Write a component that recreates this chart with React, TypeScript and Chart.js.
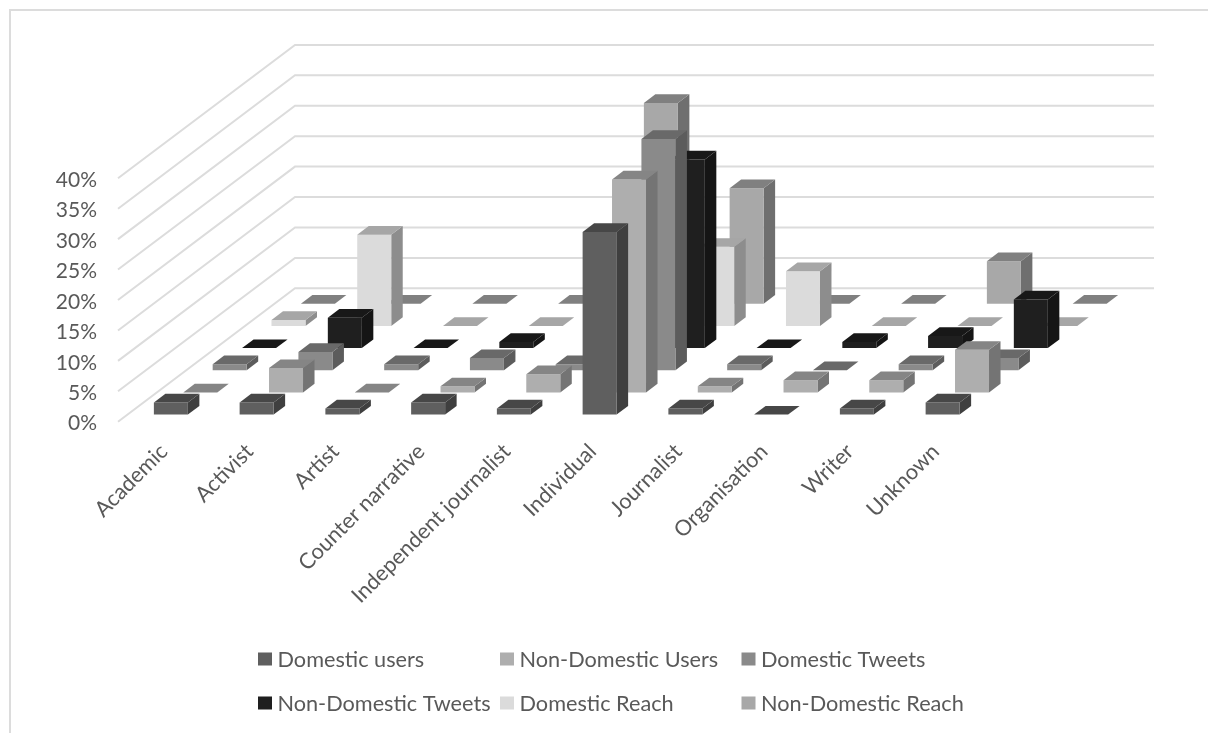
import { useEffect, useRef } from "react";
import { Chart, BarController, registerables } from "chart.js";

const categories = [
  "Academic", "Activist", "Artist", "Counter narrative", "Independent journalist",
  "Individual", "Journalist", "Organisation", "Writer", "Unknown",
];
const domesticUsers = [2, 2, 1, 2, 1, 30, 1, 0, 1, 2];
const nonDomesticUsers = [0, 4, 0, 1, 3, 35, 1, 2, 2, 7];
const domesticTweets = [1, 3, 1, 2, 1, 38, 1, 0, 1, 2];
const nonDomesticTweets = [0, 5, 0, 1, 0, 31, 0, 1, 2, 8];
const domesticReach = [1, 15, 0, 0, 0, 13, 9, 0, 0, 0];
const nonDomesticReach = [0, 0, 0, 0, 33, 19, 0, 0, 7, 0];
const yTicks = { min: 0, max: 40, step: 5 };

const seriesNames = [
  "Domestic users", "Non-Domestic Users", "Domestic Tweets",
  "Non-Domestic Tweets", "Domestic Reach", "Non-Domestic Reach",
];
const seriesValues = [
  domesticUsers, nonDomesticUsers, domesticTweets,
  nonDomesticTweets, domesticReach, nonDomesticReach,
];
const frontColors = ["#5f5f5f", "#aeaeae", "#8a8a8a", "#1f1f1f", "#dbdbdb", "#a8a8a8"];
const topColors = ["#474747", "#858585", "#696969", "#181818", "#a6a6a6", "#808080"];
const sideColors = ["#3f3f3f", "#747474", "#5c5c5c", "#151515", "#8d8d8d", "#6f6f6f"];

const TEXT = "#595959";
const GRID = "#dcdcdc";
const FONT_FAMILY = "Lato";
const FONT_WEIGHT = "400";
const FONT_SIZE = 21.7;
const VALUE_FONT_SIZE = 21;

// Oblique projection of the floor: how far each series row recedes.
const ROW_DX = 29.4;
const ROW_DY = 22.16;
const FRONT_DX = 8;
const FRONT_DY = 7.1;
const BOX_DX = 11.5;
const BOX_DY = 8.7;
const WALL_DX = 175;
const WALL_DY = 133.4;
const WALL_RIGHT = 1154;

function poly(ctx: CanvasRenderingContext2D, color: string, pts: number[][]) {
  ctx.fillStyle = color;
  ctx.beginPath();
  pts.forEach(([x, y], i) => (i ? ctx.lineTo(x, y) : ctx.moveTo(x, y)));
  ctx.closePath();
  ctx.fill();
}

// Draws each bar of a series as an extruded box, shifted back by its series row.
class Bar3DController extends BarController {
  static id = "bar3d";
  static defaults = BarController.defaults;
  static overrides = BarController.overrides;

  draw() {
    const ctx = this.chart.ctx;
    const row = this.index;
    const bars = this.getMeta().data as any[];
    bars.forEach((bar) => {
      const left = bar.x - bar.width / 2 + FRONT_DX + ROW_DX * row;
      const right = left + bar.width;
      const shift = FRONT_DY + ROW_DY * row;
      const bottom = bar.base - shift;
      const top = bar.y - shift;
      if (bottom - top > 0.5) {
        poly(ctx, sideColors[row], [
          [right, top], [right + BOX_DX, top - BOX_DY],
          [right + BOX_DX, bottom - BOX_DY], [right, bottom],
        ]);
        poly(ctx, frontColors[row], [[left, top], [right, top], [right, bottom], [left, bottom]]);
      }
      poly(ctx, topColors[row], [
        [left, top], [right, top], [right + BOX_DX, top - BOX_DY], [left + BOX_DX, top - BOX_DY],
      ]);
    });
  }
}

Chart.register(...registerables, Bar3DController);

// Receding wall and floor rules, one per value tick, plus the outer frame.
const wallGrid = {
  id: "wallGrid",
  beforeDatasetsDraw(chart: any) {
    const { ctx, scales } = chart;
    const y = scales.y;
    const left = scales.x.left;
    ctx.save();
    ctx.strokeStyle = GRID;
    ctx.lineWidth = 2;
    ctx.beginPath();
    ctx.moveTo(10, 733);
    ctx.lineTo(10, 10);
    ctx.lineTo(1208, 10);
    ctx.stroke();
    y.ticks.forEach((tick: any) => {
      const py = y.getPixelForValue(tick.value);
      ctx.beginPath();
      ctx.moveTo(left - 2, py);
      ctx.lineTo(left + WALL_DX, py - WALL_DY);
      ctx.lineTo(WALL_RIGHT, py - WALL_DY);
      ctx.stroke();
    });
    ctx.restore();
  },
};

// Legend laid out in fixed columns, taken from the datasets' own labels and colours.
const legendCols = [258, 500, 741.5];
const legendRows = [659, 703];
const columnLegend = {
  id: "columnLegend",
  afterDraw(chart: any) {
    const { ctx } = chart;
    ctx.save();
    ctx.font = `${FONT_WEIGHT} ${FONT_SIZE}px ${FONT_FAMILY}`;
    ctx.textBaseline = "middle";
    chart.data.datasets.forEach((ds: any, i: number) => {
      const x = legendCols[i % 3];
      const y = legendRows[Math.floor(i / 3)];
      ctx.fillStyle = ds.backgroundColor;
      ctx.fillRect(x, y - 6.5, 14, 13);
      ctx.fillStyle = TEXT;
      ctx.fillText(ds.label, x + 19.5, y + 1);
    });
    ctx.restore();
  },
};

export default function App() {
  const ref = useRef<HTMLCanvasElement>(null);
  useEffect(() => {
    const chart = new Chart(ref.current!, {
      type: "bar3d" as any,
      data: {
        labels: categories,
        datasets: seriesNames.map((label, i) => ({
          label,
          data: seriesValues[i],
          backgroundColor: frontColors[i],
          barThickness: 34,
          grouped: false,
          clip: false,
        })),
      } as any,
      plugins: [wallGrid, columnLegend],
      options: {
        animation: false,
        responsive: false,
        layout: { padding: { left: 0, top: 178.3, right: 230.5, bottom: 111.3 } },
        plugins: { legend: { display: false }, tooltip: { enabled: false } },
        scales: {
          x: {
            type: "category",
            grid: { display: false, drawTicks: false },
            border: { display: false },
            afterFit: (s: any) => { s.height = 200; },
            ticks: {
              autoSkip: false,
              minRotation: 45,
              maxRotation: 45,
              padding: 17,
              labelOffset: 1,
              color: TEXT,
              font: { family: FONT_FAMILY, size: FONT_SIZE, weight: FONT_WEIGHT },
            },
          },
          y: {
            min: yTicks.min,
            max: yTicks.max,
            grid: { display: false, drawTicks: false },
            border: { display: false },
            afterFit: (s: any) => { s.width = 120; },
            ticks: {
              stepSize: yTicks.step,
              padding: 23,
              labelOffset: 2,
              color: TEXT,
              font: { family: FONT_FAMILY, size: VALUE_FONT_SIZE, weight: FONT_WEIGHT },
              callback: (v: any) => `${v}%`,
            },
          },
        },
      } as any,
    });
    return () => chart.destroy();
  }, []);
  return (
    <canvas
      ref={ref}
      width={1208}
      height={733}
      style={{ position: "fixed", left: 0, top: 0, display: "block", background: "#fff" }}
    />
  );
}
